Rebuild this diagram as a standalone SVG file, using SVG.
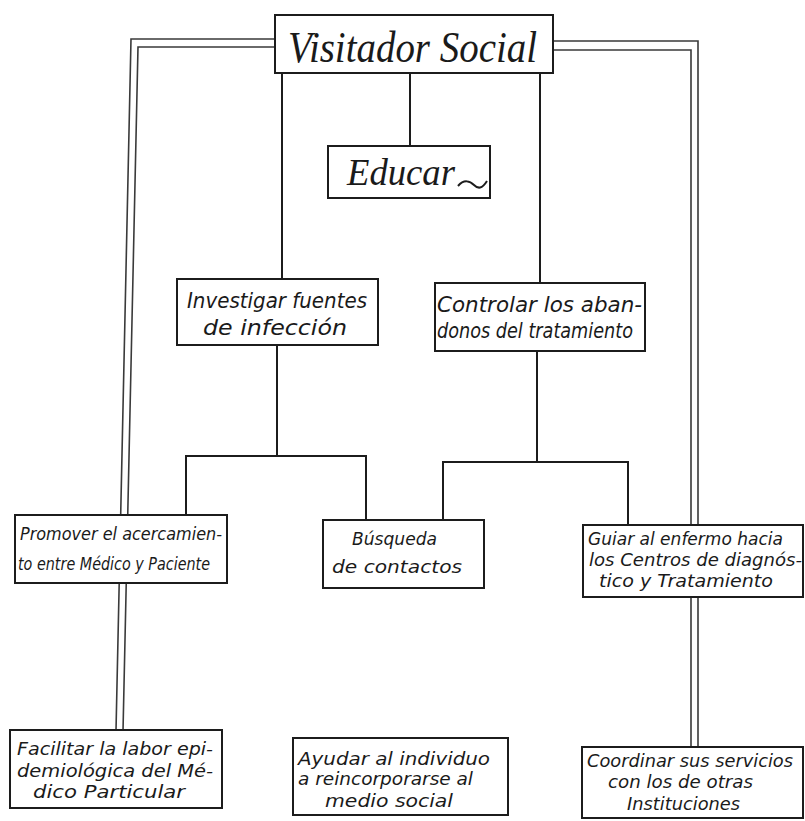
<svg xmlns="http://www.w3.org/2000/svg" width="805" height="821" viewBox="0 0 805 821">
<style>
.box{fill:#fff;stroke:#1c1c1c;stroke-width:2}
.ln{fill:none;stroke:#1c1c1c;stroke-width:2}
.dbl{fill:none;stroke:#3a3a3a;stroke-width:1.6}
.t{font-family:"DejaVu Sans","Liberation Sans",sans-serif;font-style:oblique;font-size:18px;fill:#1a1a1a}
.m{font-family:"DejaVu Sans","Liberation Sans",sans-serif;font-style:oblique;font-size:21px;fill:#1a1a1a}
.h{font-family:"Liberation Serif",serif;font-style:italic;fill:#1a1a1a}
</style>
<rect width="805" height="821" fill="#fff"/>
<g id="connectors">
  <!-- double frame left -->
  <polyline class="dbl" points="276,39 131,39 116,731"/>
  <polyline class="dbl" points="276,47 138,47 123,731"/>
  <!-- double frame right -->
  <polyline class="dbl" points="552,41 698,41 698,748"/>
  <polyline class="dbl" points="552,50 691,50 691,748"/>
  <!-- from Visitador -->
  <line class="ln" x1="282" y1="73" x2="282" y2="280"/>
  <line class="ln" x1="410" y1="73" x2="410" y2="147"/>
  <line class="ln" x1="540" y1="73" x2="540" y2="283"/>
  <!-- Investigar branch -->
  <polyline class="ln" points="277,345 277,456"/>
  <polyline class="ln" points="186,515 186,456 366,456 366,520"/>
  <!-- Controlar branch -->
  <polyline class="ln" points="537,351 537,462"/>
  <polyline class="ln" points="443,520 443,462 628,462 628,525"/>
</g>
<g id="visitador">
  <rect class="box" x="275" y="15" width="278" height="58"/>
  <text class="h" x="288" y="62" font-size="44" textLength="249" lengthAdjust="spacingAndGlyphs">Visitador  Social</text>
</g>
<g id="educar">
  <rect class="box" x="328" y="146" width="162" height="52"/>
  <text class="h" x="347" y="185" font-size="38" textLength="108" lengthAdjust="spacingAndGlyphs">Educar</text>
  <path class="ln" d="M458,186 C464,179 470,181 474,185 S482,189 487,181" stroke-width="1.6"/>
</g>
<g id="investigar">
  <rect class="box" x="177" y="279" width="201" height="66"/>
  <text class="m" x="187" y="308" textLength="180" lengthAdjust="spacingAndGlyphs">Investigar fuentes</text>
  <text class="m" x="203" y="335" textLength="144" lengthAdjust="spacingAndGlyphs">de  infección</text>
</g>
<g id="controlar">
  <rect class="box" x="435" y="283" width="210" height="68"/>
  <text class="m" x="437" y="312" textLength="205" lengthAdjust="spacingAndGlyphs">Controlar los aban-</text>
  <text class="m" x="437" y="338" textLength="196" lengthAdjust="spacingAndGlyphs">donos del tratamiento</text>
</g>
<g id="promover">
  <rect class="box" x="15" y="515" width="212" height="68"/>
  <text class="t" x="20" y="540" textLength="202" lengthAdjust="spacingAndGlyphs">Promover el acercamien-</text>
  <text class="t" x="18" y="570" textLength="192" lengthAdjust="spacingAndGlyphs">to entre Médico y Paciente</text>
</g>
<g id="busqueda">
  <rect class="box" x="323" y="520" width="161" height="68"/>
  <text class="t" x="352" y="545" font-size="19" textLength="85" lengthAdjust="spacingAndGlyphs">Búsqueda</text>
  <text class="t" x="332" y="573" font-size="19" textLength="130" lengthAdjust="spacingAndGlyphs">de contactos</text>
</g>
<g id="guiar">
  <rect class="box" x="583" y="525" width="220" height="72"/>
  <text class="t" x="588" y="545" textLength="195" lengthAdjust="spacingAndGlyphs">Guiar al enfermo hacia</text>
  <text class="t" x="589" y="566" textLength="213" lengthAdjust="spacingAndGlyphs">los Centros de diagnós-</text>
  <text class="t" x="599" y="587" textLength="174" lengthAdjust="spacingAndGlyphs">tico y Tratamiento</text>
</g>
<g id="facilitar">
  <rect class="box" x="10" y="730" width="212" height="78"/>
  <text class="t" x="17" y="755" textLength="196" lengthAdjust="spacingAndGlyphs">Facilitar la labor epi-</text>
  <text class="t" x="17" y="777" textLength="196" lengthAdjust="spacingAndGlyphs">demiológica del Mé-</text>
  <text class="t" x="33" y="798" textLength="152" lengthAdjust="spacingAndGlyphs">dico  Particular</text>
</g>
<g id="ayudar">
  <rect class="box" x="293" y="738" width="215" height="77"/>
  <text class="t" x="298" y="765" textLength="192" lengthAdjust="spacingAndGlyphs">Ayudar al individuo</text>
  <text class="t" x="298" y="785" textLength="175" lengthAdjust="spacingAndGlyphs">a reincorporarse  al</text>
  <text class="t" x="325" y="807" textLength="128" lengthAdjust="spacingAndGlyphs">medio social</text>
</g>
<g id="coordinar">
  <rect class="box" x="582" y="747" width="221" height="71"/>
  <text class="t" x="587" y="767" textLength="206" lengthAdjust="spacingAndGlyphs">Coordinar sus servicios</text>
  <text class="t" x="608" y="788" textLength="145" lengthAdjust="spacingAndGlyphs">con los de otras</text>
  <text class="t" x="627" y="810" textLength="113" lengthAdjust="spacingAndGlyphs">Instituciones</text>
</g>
</svg>
